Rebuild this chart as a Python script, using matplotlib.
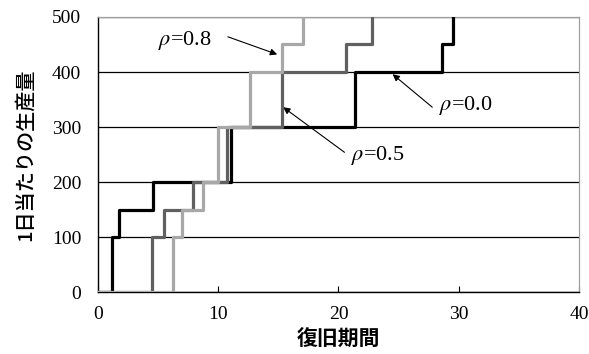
import matplotlib.pyplot as plt

plt.rcParams['mathtext.fontset'] = 'stix'

# change points (recovery period) and production levels for each rho
levels = [0, 100, 150, 200, 300, 400, 450, 500]
x_rho00 = [0, 1.14, 1.77, 4.6, 11.1, 21.4, 28.6, 29.5]
x_rho05 = [0, 4.46, 5.49, 7.87, 10.7, 15.27, 20.6, 22.8]
x_rho08 = [0, 6.26, 6.95, 8.76, 9.95, 12.6, 15.27, 17.07]

fig = plt.figure(figsize=(5.89, 3.54), dpi=100)
ax = fig.add_axes([0.1664, 0.175, 0.8166, 0.777])

ax.plot(x_rho00, levels, drawstyle='steps-post', color='black', lw=2.3, zorder=3)
ax.plot(x_rho05, levels, drawstyle='steps-post', color='#606060', lw=2.3, zorder=4)
ax.plot(x_rho08, levels, drawstyle='steps-post', color='#a8a8a8', lw=2.3, zorder=5)

ax.set_xlim(0, 40)
ax.set_ylim(0, 500)
ax.set_xticks([0, 10, 20, 30, 40])
ax.set_yticks([0, 100, 200, 300, 400, 500])
ax.yaxis.grid(True, color='black', lw=0.9)
ax.set_axisbelow(True)

for lab in ax.get_xticklabels() + ax.get_yticklabels():
    lab.set_fontfamily('Liberation Serif')
    lab.set_fontsize(14)
ax.tick_params(axis='x', direction='in', length=4, pad=10)
ax.tick_params(axis='y', length=0, pad=12)

for s in ['top', 'right']:
    ax.spines[s].set_color('#a0a0a0')
    ax.spines[s].set_linewidth(0.9)
ax.spines['left'].set_linewidth(1.0)
ax.spines['bottom'].set_linewidth(1.0)

ax.set_xlabel('復旧期間', family='Noto Sans CJK JP', fontsize=15, fontweight='bold', labelpad=4)
ax.set_ylabel('1日当たりの生産量', family='Noto Sans CJK JP', fontsize=14.5, fontweight='medium', labelpad=12)

arrow = dict(arrowstyle='-|>', color='black', lw=0.8, mutation_scale=10, shrinkA=0, shrinkB=0)
ax.annotate('', xy=(14.9, 432), xytext=(10.8, 464), arrowprops=arrow)
ax.annotate('', xy=(24.5, 396), xytext=(27.8, 336), arrowprops=arrow)
ax.annotate('', xy=(15.4, 336), xytext=(20.5, 254), arrowprops=arrow)
ax.text(7.2, 458, r'$\rho$=0.8', ha='center', va='center', family='Liberation Serif', fontsize=16)
ax.text(30.6, 340, r'$\rho$=0.0', ha='center', va='center', family='Liberation Serif', fontsize=16)
ax.text(23.3, 249, r'$\rho$=0.5', ha='center', va='center', family='Liberation Serif', fontsize=16)

fig.savefig('out.png', dpi=100)
